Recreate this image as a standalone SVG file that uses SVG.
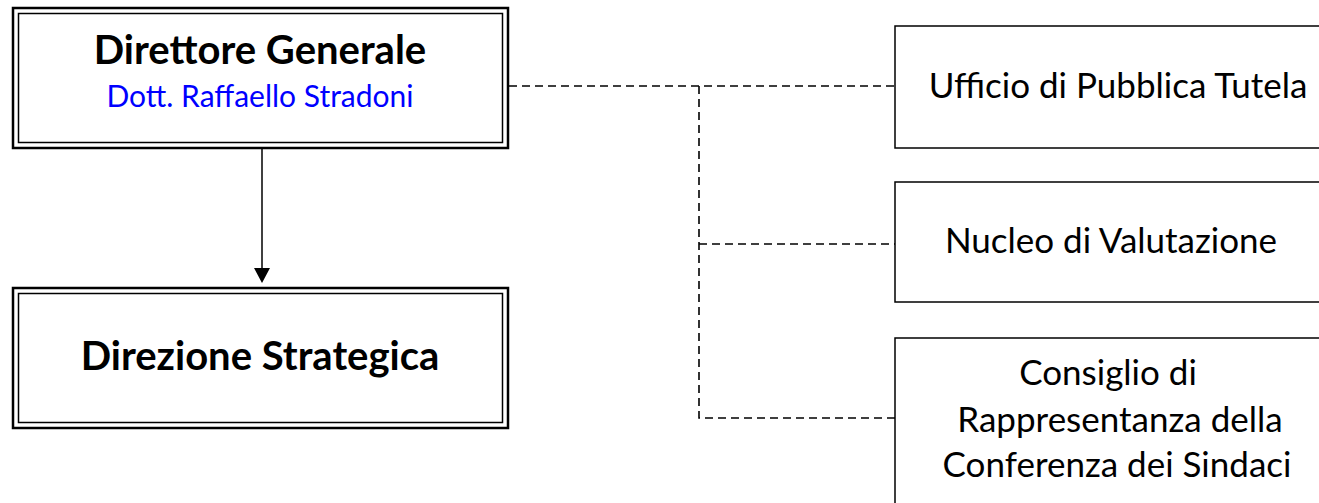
<svg xmlns="http://www.w3.org/2000/svg" width="1319" height="503" viewBox="0 0 1319 503">
<style>
.outer{fill:none;stroke:#000;stroke-width:2.5}
.inner{fill:none;stroke:#000;stroke-width:1.5}
.box{fill:#fff;stroke:#000;stroke-width:1.5}
.dash{fill:none;stroke:#000;stroke-width:1.6;stroke-dasharray:8 5}
.solid{fill:none;stroke:#000;stroke-width:1.5}
text{font-family:Lato,"Open Sans","Liberation Sans",sans-serif;text-anchor:middle;fill:#000}
.b{font-weight:bold;font-size:40px}
.r{font-size:35px}
.blue{fill:#0000FF;font-size:30px}
</style>
<rect width="1319" height="503" fill="#fff"/>
<g id="connectors">
<path class="dash" d="M509,86 H895"/>
<path class="dash" d="M699,86 V418 H895"/>
<path class="dash" d="M699,244 H895"/>
<path class="solid" d="M262,149 V270"/>
<path d="M254,268 L270,268 L262,283 Z" fill="#000"/>
</g>
<g id="direttore">
<rect class="outer" x="13" y="8" width="495" height="140"/>
<rect class="inner" x="18.5" y="13.5" width="484" height="129"/>
<text class="b" x="260" y="64">Direttore Generale</text>
<text class="blue" x="260" y="107">Dott. Raffaello Stradoni</text>
</g>
<g id="direzione">
<rect class="outer" x="13" y="288" width="495" height="140"/>
<rect class="inner" x="18.5" y="293.5" width="484" height="129"/>
<text class="b" x="260" y="370">Direzione Strategica</text>
</g>
<g id="ufficio">
<rect class="box" x="895" y="26" width="440" height="122"/>
<text class="r" x="1118" y="98">Ufficio di Pubblica Tutela</text>
</g>
<g id="nucleo">
<rect class="box" x="895" y="182" width="440" height="120"/>
<text class="r" x="1111" y="253">Nucleo di Valutazione</text>
</g>
<g id="consiglio">
<rect class="box" x="895" y="338" width="440" height="180"/>
<text class="r" x="1108" y="385">Consiglio di</text>
<text class="r" x="1120" y="432">Rappresentanza della</text>
<text class="r" x="1117" y="477">Conferenza dei Sindaci</text>
</g>
</svg>
